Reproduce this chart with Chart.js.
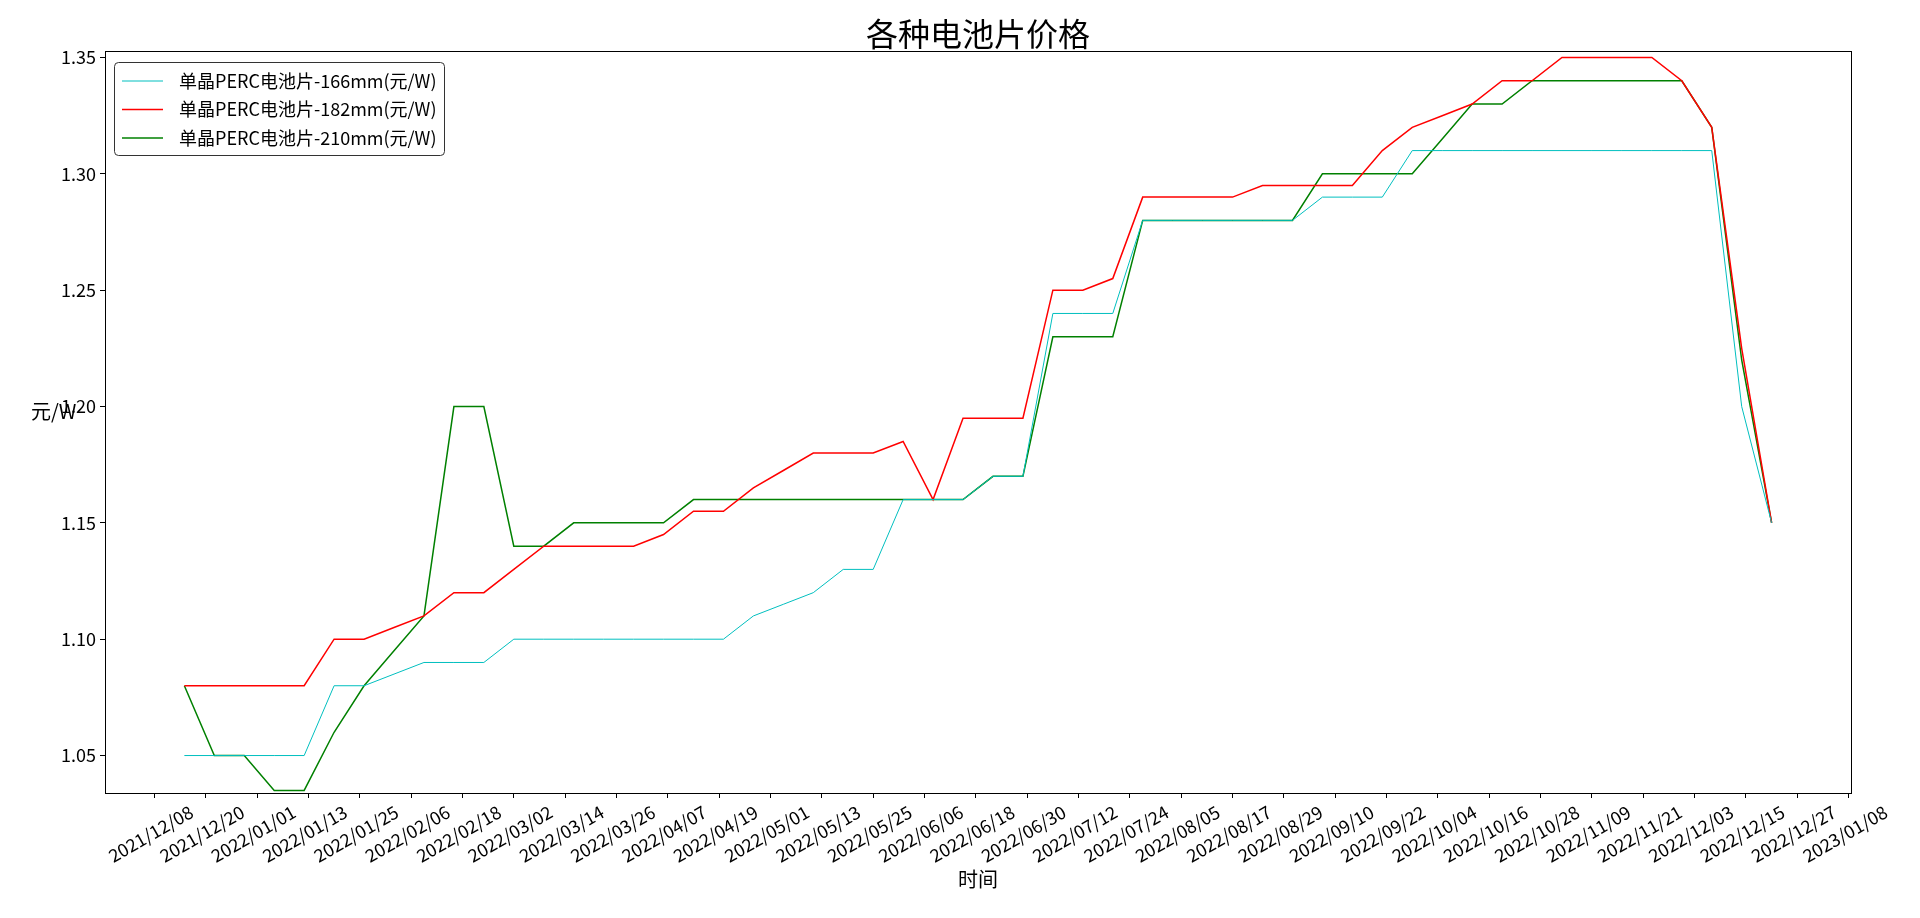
<!DOCTYPE html>
<html>
<head>
<meta charset="utf-8">
<script src="https://cdn.jsdelivr.net/npm/chart.js@4.4.0/dist/chart.umd.min.js"></script>
<style>
  body { margin: 0; background: #fff; }
  #wrap { width: 1920px; height: 918px; }
</style>
</head>
<body>
<div id="wrap"><canvas id="priceChart"></canvas></div>
<script>
// weekly quotes
var dates = [
    "2021-12-15", "2021-12-22", "2021-12-29",
    "2022-01-05", "2022-01-12", "2022-01-19", "2022-01-26",
    "2022-02-02", "2022-02-09", "2022-02-16", "2022-02-23",
    "2022-03-02", "2022-03-09", "2022-03-16", "2022-03-23", "2022-03-30",
    "2022-04-06", "2022-04-13", "2022-04-20", "2022-04-27",
    "2022-05-04", "2022-05-11", "2022-05-18", "2022-05-25",
    "2022-06-01", "2022-06-08", "2022-06-15", "2022-06-22", "2022-06-29",
    "2022-07-06", "2022-07-13", "2022-07-20", "2022-07-27",
    "2022-08-03", "2022-08-10", "2022-08-17", "2022-08-24", "2022-08-31",
    "2022-09-07", "2022-09-14", "2022-09-21", "2022-09-28",
    "2022-10-05", "2022-10-12", "2022-10-19", "2022-10-26",
    "2022-11-02", "2022-11-09", "2022-11-16", "2022-11-23", "2022-11-30",
    "2022-12-07", "2022-12-14", "2022-12-21"
];

var price166 = [
    1.05, 1.05, 1.05, 1.05, 1.05, 1.08, 1.08, 1.085, 1.09, 1.09,
    1.09, 1.10, 1.10, 1.10, 1.10, 1.10, 1.10, 1.10, 1.10, 1.11,
    1.115, 1.12, 1.13, 1.13, 1.16, 1.16, 1.16, 1.17, 1.17, 1.24,
    1.24, 1.24, 1.28, 1.28, 1.28, 1.28, 1.28, 1.28, 1.29, 1.29,
    1.29, 1.31, 1.31, 1.31, 1.31, 1.31, 1.31, 1.31, 1.31, 1.31,
    1.31, 1.31, 1.20, 1.15
];

var price182 = [
    1.08, 1.08, 1.08, 1.08, 1.08, 1.10, 1.10, 1.105, 1.11, 1.12,
    1.12, 1.13, 1.14, 1.14, 1.14, 1.14, 1.145, 1.155, 1.155, 1.165,
    1.1725, 1.18, 1.18, 1.18, 1.185, 1.16, 1.195, 1.195, 1.195, 1.25,
    1.25, 1.255, 1.29, 1.29, 1.29, 1.29, 1.295, 1.295, 1.295, 1.295,
    1.31, 1.32, 1.325, 1.33, 1.34, 1.34, 1.35, 1.35, 1.35, 1.35,
    1.34, 1.32, 1.225, 1.15
];

var price210 = [
    1.08, 1.05, 1.05, 1.035, 1.035, 1.06, 1.08, 1.095, 1.11, 1.20,
    1.20, 1.14, 1.14, 1.15, 1.15, 1.15, 1.15, 1.16, 1.16, 1.16,
    1.16, 1.16, 1.16, 1.16, 1.16, 1.16, 1.16, 1.17, 1.17, 1.23,
    1.23, 1.23, 1.28, 1.28, 1.28, 1.28, 1.28, 1.28, 1.30, 1.30,
    1.30, 1.30, 1.315, 1.33, 1.33, 1.34, 1.34, 1.34, 1.34, 1.34,
    1.34, 1.32, 1.22, 1.15
];

var xTickLabels = [
    "2021/12/08", "2021/12/20", "2022/01/01", "2022/01/13", "2022/01/25",
    "2022/02/06", "2022/02/18", "2022/03/02", "2022/03/14", "2022/03/26",
    "2022/04/07", "2022/04/19", "2022/05/01", "2022/05/13", "2022/05/25",
    "2022/06/06", "2022/06/18", "2022/06/30", "2022/07/12", "2022/07/24",
    "2022/08/05", "2022/08/17", "2022/08/29", "2022/09/10", "2022/09/22",
    "2022/10/04", "2022/10/16", "2022/10/28", "2022/11/09", "2022/11/21",
    "2022/12/03", "2022/12/15", "2022/12/27", "2023/01/08"
];

var yTicks = [1.05, 1.10, 1.15, 1.20, 1.25, 1.30, 1.35];

var seriesNames = [
    "单晶PERC电池片-166mm(元/W)",
    "单晶PERC电池片-182mm(元/W)",
    "单晶PERC电池片-210mm(元/W)"
];
var seriesColors = ["#00bfbf", "#ff0000", "#008000"];
var seriesWidths = [1, 1.5, 1.5];

var fontName = '"Noto Sans CJK SC", "DejaVu Sans", sans-serif';

function dayNumber(s) {
    var p = s.split(/[-\/]/);
    return Date.UTC(+p[0], +p[1] - 1, +p[2]) / 86400000;
}

// x limits like matplotlib's 5% auto margin
var firstDay = dayNumber(dates[0]);
var lastDay = dayNumber(dates[dates.length - 1]);
var margin = (lastDay - firstDay) * 0.05;

var tickLabelByDay = {};
xTickLabels.forEach(function (l) { tickLabelByDay[dayNumber(l)] = l; });

var allSeries = [price166, price182, price210];
var _datasets = [];
for (var i = 0; i < allSeries.length; i++) {
    _datasets.push({
        label: seriesNames[i],
        data: allSeries[i].map(function (v, k) { return { x: dayNumber(dates[k]), y: v }; }),
        borderColor: seriesColors[i],
        backgroundColor: seriesColors[i],
        borderWidth: seriesWidths[i],
        pointRadius: 0,
        tension: 0,
        fill: false
    });
}

// box, title, axis names and the legend
var decorPlugin = {
    id: 'decor',
    afterDraw: function (chart) {
        var ctx = chart.ctx;
        var a = chart.chartArea;
        ctx.save();
        ctx.strokeStyle = '#000';
        ctx.lineWidth = 1;
        ctx.strokeRect(Math.round(a.left) + 0.5, Math.round(a.top) + 0.5,
            Math.round(a.right - a.left), Math.round(a.bottom - a.top));

        ctx.fillStyle = '#000';
        ctx.textAlign = 'center';
        ctx.textBaseline = 'middle';
        ctx.font = '32px ' + fontName;
        ctx.fillText('各种电池片价格', (a.left + a.right) / 2, 34);
        ctx.font = '20px ' + fontName;
        ctx.fillText('时间', (a.left + a.right) / 2, 879);
        ctx.textAlign = 'left';
        ctx.fillText('元/W', 31, 411);

        // legend
        var bx = 114.5, by = 62.5, bw = 330, bh = 93, r = 4;
        ctx.beginPath();
        ctx.moveTo(bx + r, by);
        ctx.lineTo(bx + bw - r, by);
        ctx.arcTo(bx + bw, by, bx + bw, by + r, r);
        ctx.lineTo(bx + bw, by + bh - r);
        ctx.arcTo(bx + bw, by + bh, bx + bw - r, by + bh, r);
        ctx.lineTo(bx + r, by + bh);
        ctx.arcTo(bx, by + bh, bx, by + bh - r, r);
        ctx.lineTo(bx, by + r);
        ctx.arcTo(bx, by, bx + r, by, r);
        ctx.closePath();
        ctx.fillStyle = 'rgba(255,255,255,0.8)';
        ctx.fill();
        ctx.strokeStyle = '#333';
        ctx.lineWidth = 1;
        ctx.stroke();

        ctx.font = '18px ' + fontName;
        ctx.textBaseline = 'middle';
        for (var i = 0; i < seriesNames.length; i++) {
            var yy = 81 + i * 28.5;
            ctx.strokeStyle = seriesColors[i];
            ctx.lineWidth = seriesWidths[i];
            ctx.beginPath();
            ctx.moveTo(122, yy);
            ctx.lineTo(163, yy);
            ctx.stroke();
            ctx.fillStyle = '#000';
            ctx.fillText(seriesNames[i], 179, yy);
        }
        ctx.restore();
    }
};

new Chart(document.getElementById('priceChart'), {
    type: 'line',
    data: { datasets: _datasets },
    options: {
        responsive: true,
        maintainAspectRatio: false,
        animation: false,
        layout: { padding: { left: 0, top: 51, right: 69, bottom: 0 } },
        plugins: {
            legend: { display: false },
            title: { display: false },
            tooltip: { enabled: false }
        },
        scales: {
            x: {
                type: 'linear',
                min: firstDay - margin,
                max: lastDay + margin,
                border: { display: false },
                grid: { drawOnChartArea: false, drawTicks: true, tickLength: 5, color: '#000' },
                afterBuildTicks: function (scale) {
                    scale.ticks = xTickLabels.map(function (l) { return { value: dayNumber(l) }; });
                },
                afterFit: function (scale) { scale.height = 125; },
                ticks: {
                    autoSkip: false,
                    minRotation: 30,
                    maxRotation: 30,
                    labelOffset: 37,
                    padding: 3,
                    color: '#000',
                    font: { family: fontName, size: 18 },
                    callback: function (v) { return tickLabelByDay[v] || ''; }
                }
            },
            y: {
                min: 1.0339,
                max: 1.3528,
                border: { display: false },
                grid: { drawOnChartArea: false, drawTicks: true, tickLength: 5, color: '#000' },
                afterBuildTicks: function (scale) {
                    scale.ticks = yTicks.map(function (v) { return { value: v }; });
                },
                afterFit: function (scale) { scale.width = 105; },
                ticks: {
                    padding: 4,
                    color: '#000',
                    font: { family: fontName, size: 18 },
                    callback: function (v) { return v.toFixed(2); }
                }
            }
        }
    },
    plugins: [decorPlugin]
});
</script>
</body>
</html>
